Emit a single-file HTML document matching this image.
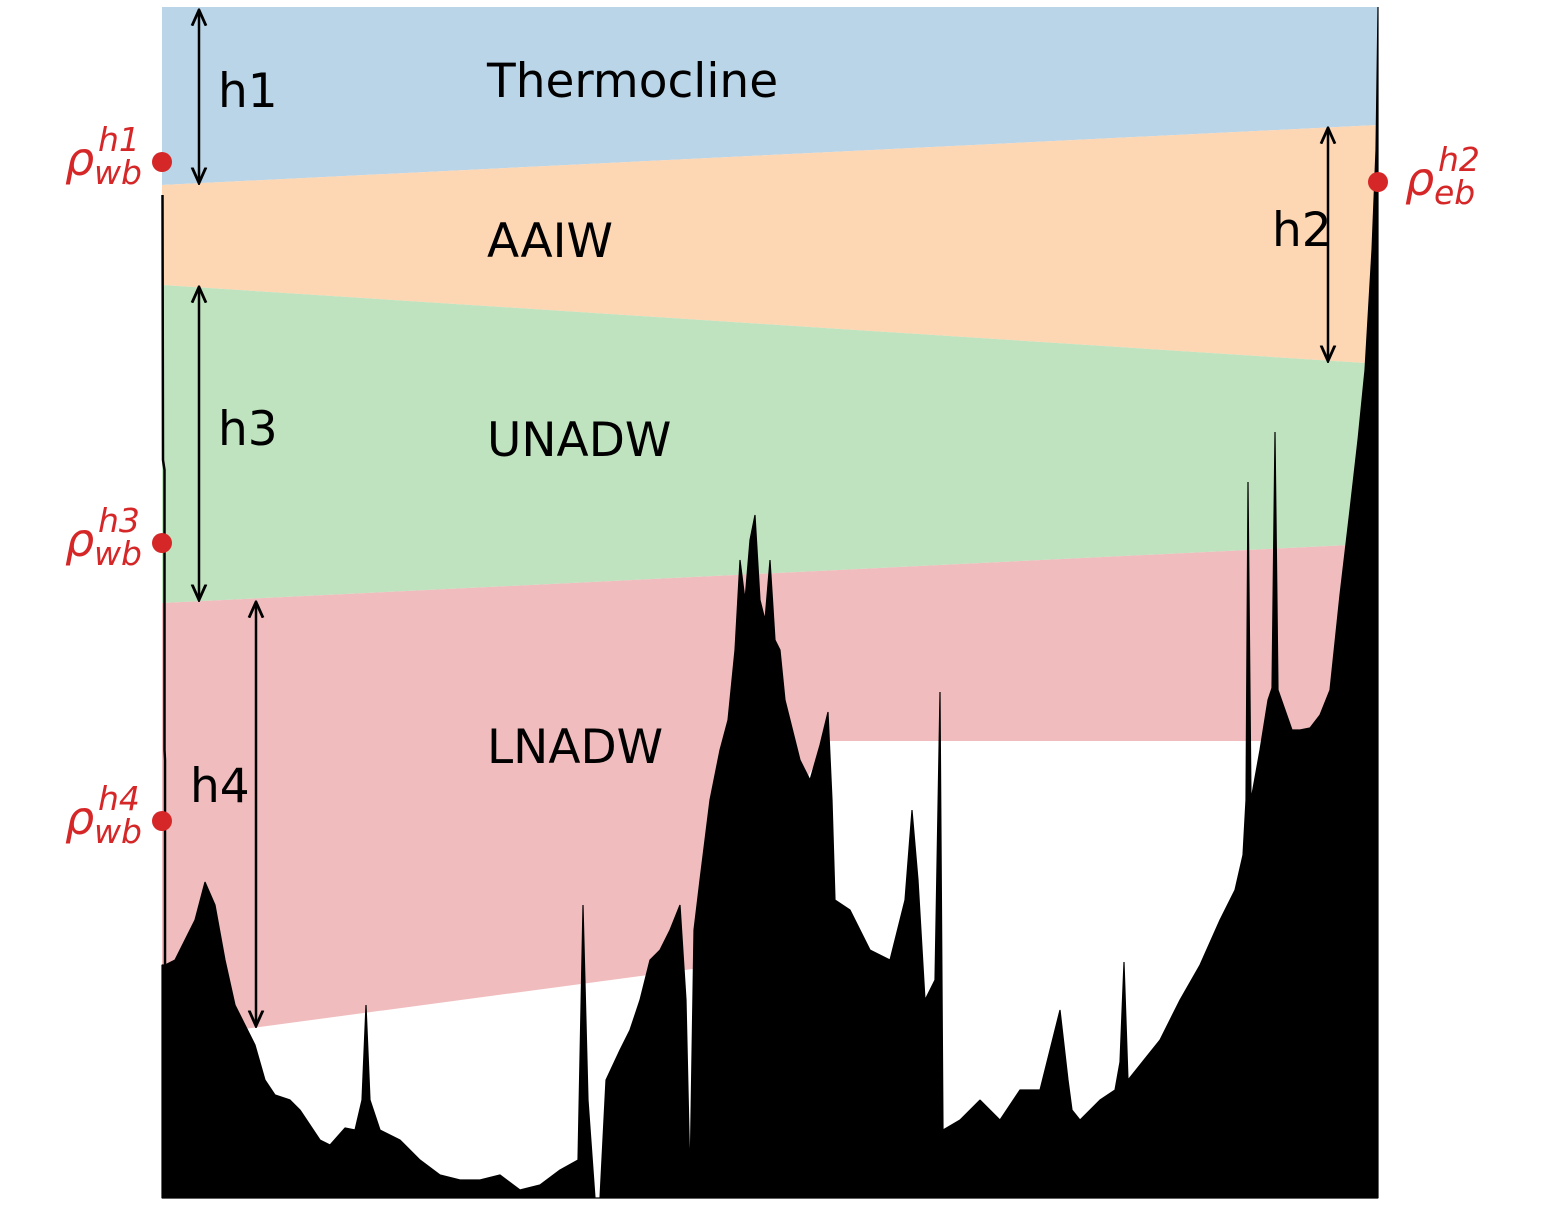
<!DOCTYPE html>
<html><head><meta charset="utf-8"><style>
html,body{margin:0;padding:0;background:#fff;}
svg{display:block;font-family:"DejaVu Sans","Liberation Sans",sans-serif;}
</style></head><body>
<svg id="chart" width="1546" height="1206" viewBox="0 0 1546 1206" xmlns="http://www.w3.org/2000/svg">
<defs><marker id="ah" viewBox="0 0 10 10" refX="9" refY="5" markerWidth="7" markerHeight="7" orient="auto-start-reverse"><path d="M0,1 L9,5 L0,9" fill="none" stroke="#000" stroke-width="1.6"/></marker></defs>
<g id="layers"></g>
<g id="bathy"></g>
<g id="annot"></g>
</svg>
<script>
// Bathymetry profile: [distance along section, seafloor depth] in chart units
const profile = [[3,958],[13,953],[23,933],[33,913],[43,875],[53,898],[63,953],[73,998],[83,1018],[93,1038],[103,1073],[113,1088],[128,1093],[138,1103],[148,1118],[158,1133],[168,1138],[183,1121],[193,1123],[200,1093],[204,998],[208,1093],[218,1123],[238,1133],[258,1153],[278,1168],[298,1173],[318,1173],[338,1168],[358,1183],[378,1178],[398,1163],[416,1153],[421,898],[426,1093],[433,1191],[438,1191],[444,1073],[458,1043],[468,1023],[478,993],[488,953],[498,943],[508,923],[518,898],[524,993],[528,1173],[532,923],[538,873],[548,793],[558,743],[566,713],[573,643],[578,553],[583,593],[588,533],[593,508],[598,593],[603,613],[608,553],[613,633],[618,643],[623,693],[628,713],[638,753],[648,773],[658,738],[666,705],[670,793],[673,893],[688,903],[708,943],[728,953],[743,893],[750,803],[756,873],[763,993],[773,973],[778,685],[781,1123],[798,1113],[818,1093],[838,1113],[858,1083],[878,1083],[898,1003],[906,1073],[910,1103],[918,1113],[938,1093],[953,1083],[958,1055],[962,955],[966,1073],[978,1058],[998,1033],[1018,993],[1038,958],[1058,913],[1073,883],[1081,848],[1084,793],[1086,475],[1089,793],[1098,743],[1106,693],[1110,681],[1113,425],[1116,683],[1123,703],[1130,723],[1138,723],[1148,721],[1158,708],[1168,683],[1178,588],[1188,503],[1196,433],[1203,363],[1210,243],[1214,143],[1216,0]];
const distance = profile.map(p => p[0]);
const depth = profile.map(p => p[1]);
const W0=162,W1=1378,T0=7,T1=1198;
const sx = d => W0 + d*(W1-W0)/1216;
const sy = z => T0 + z*(T1-T0)/1191;
const NS='http://www.w3.org/2000/svg';
function mk(tag,attrs,parent){const e=document.createElementNS(NS,tag);for(const k in attrs)e.setAttribute(k,attrs[k]);parent.appendChild(e);return e;}
const L=document.getElementById('layers');
let p;
p=mk('path',{d:`M162,7 L1378,7 L1378,125 L162,185 Z`,fill:'#bad5e8'},L);


p=mk('path',{d:`M162,185 L1378,125 L1378,363 L1365,363 L162,285 Z`,fill:'#fdd6b4'},L);


p=mk('path',{d:`M162,285 L1365,363 L1350,545 L162,603 Z`,fill:'#bfe3bf'},L);


p=mk('path',{d:`M162,603 L1350,545 L1330,741 L828,741 L700,968 L162,1040 Z`,fill:'#f0bcbe'},L);


// bathymetry
const B=document.getElementById('bathy');
let d=`M${sx(0)},${T1} L${sx(0)},${sy(depth[0])}`;
for(let i=0;i<distance.length;i++) d+=` L${sx(distance[i]).toFixed(1)},${sy(depth[i]).toFixed(1)}`;
d+=` L${sx(1216)},${T1} Z`;
p=mk('path',{d:d,fill:'#000',stroke:'#000','stroke-width':1.2,'stroke-linejoin':'bevel'},B);


p=mk('path',{d:'M162.5,195 L163,460 L164.5,470 L164.5,750 L165,760 L165,1198',fill:'none',stroke:'#000','stroke-width':2.5},B);


// annotations
const A=document.getElementById('annot');
const arrows=[['h1-arrow',199,10,183],['h3-arrow',199,287,600],['h4-arrow',256,602,1026],['h2-arrow',1328,128,361]];
arrows.forEach(a=>{const l=mk('line',{x1:a[1],y1:a[2],x2:a[1],y2:a[3],stroke:'#000','stroke-width':2.5,'marker-start':'url(#ah)','marker-end':'url(#ah)'},A);

});
const labels=[['h1-label','h1',218,107],['h3-label','h3',218,445],['h4-label','h4',190,802],['h2-label','h2',1272,246],['thermocline-label','Thermocline',487,97],['aaiw-label','AAIW',487,257],['unadw-label','UNADW',487,456],['lnadw-label','LNADW',487,763]];
labels.forEach(t=>{const e=mk('text',{x:t[2],y:t[3],'font-size':47,fill:'#000'},A);e.textContent=t[1];

});
const dots=[['rho-wb-h1',162,162,'wb','h1',145,'end'],['rho-wb-h3',162,543,'wb','h3',145,'end'],['rho-wb-h4',162,821,'wb','h4',145,'end'],['rho-eb-h2',1378,182,'eb','h2',1405,'start']];
dots.forEach(o=>{const c=mk('circle',{cx:o[1],cy:o[2],r:10,fill:'#d62728'},A);


const g=mk('g',{},A);


const x0=o[6]==='end'?o[5]-80:o[5];
const t1=mk('text',{x:x0,y:o[2]+13,'font-size':46,'font-style':'italic',fill:'#d62728'},g);t1.textContent='ρ';
const t2=mk('text',{x:x0+29,y:o[2]+22,'font-size':33,'font-style':'italic',fill:'#d62728'},g);t2.textContent=o[3];
const t3=mk('text',{x:x0+33,y:o[2]-11,'font-size':33,'font-style':'italic',fill:'#d62728'},g);t3.textContent=o[4];
});
</script>
</body></html>
